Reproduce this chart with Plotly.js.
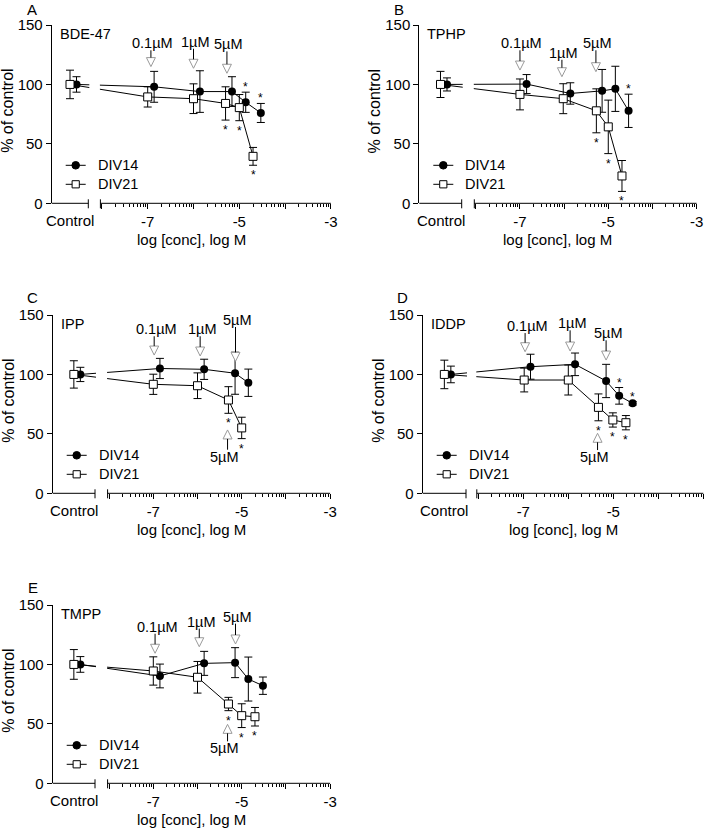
<!DOCTYPE html>
<html><head><meta charset="utf-8">
<script src="https://cdn.plot.ly/plotly-3.0.1.min.js"></script>
<style>html,body{margin:0;padding:0;background:#fff}#chart{width:709px;height:829px}</style>
</head><body><div id="chart"></div>
<script>
// ---------------- DATA ----------------
const seriesNames = ["DIV14", "DIV21"];
const xTickVals = [-8, -7, -6, -5, -4, -3];
const xTickText = ["", "-7", "", "-5", "", "-3"];
const yTickVals = [0, 50, 100, 150];

// A: BDE-47  (y / err arrays: first entry = Control)
const xA_div14 = [-6.86, -5.86, -5.16, -4.86, -4.53];
const yA_div14 = [100, 98, 94, 94, 85, 76];
const eA_div14 = [6.5, 13, 17.5, 12.5, 8.5, 8];
const sA_div14 = [0, 0, 0, 0, 1, 1];
const xA_div21 = [-7.0, -6.0, -5.3, -5.0, -4.7];
const yA_div21 = [100, 89.5, 88, 84, 80.5, 39.5];
const eA_div21 = [12, 8.5, 12.5, 14, 11, 7.5];
const sA_div21 = [0, 0, 0, 1, 1, 1];
const arrA_label = ["0.1µM", "1µM", "5µM"];
const arrA_x = [-6.93, -6.0, -5.27];
const arrA_tip = [115, 113.6, 109.4];
const arrA_text = [134.6, 135.9, 133.7];

// B: TPHP
const xB_div14 = [-6.85, -5.86, -5.14, -4.84, -4.54];
const yB_div14 = [100, 100.3, 92.4, 94.6, 96.3, 77.8];
const eB_div14 = [5.5, 8, 9, 18, 19, 14];
const sB_div14 = [0, 0, 0, 0, 0, 1];
const xB_div21 = [-7.0, -6.02, -5.27, -5.0, -4.69];
const yB_div21 = [100, 91.6, 88, 77.8, 64.3, 23];
const eB_div21 = [11, 13, 12.6, 18.5, 22.5, 13];
const sB_div21 = [0, 0, 0, 1, 1, 1];
const arrB_label = ["0.1µM", "1µM", "5µM"];
const arrB_x = [-7.0, -6.05, -5.28];
const arrB_tip = [112.1, 106.5, 110.7];
const arrB_text = [134.6, 126.6, 134.6];

// C: IPP
const xC_div14 = [-6.85, -5.85, -5.15, -4.85];
const yC_div14 = [100, 105, 104.3, 101, 93];
const eC_div14 = [6, 8.5, 8.5, 17.7, 11.5];
const sC_div14 = [0, 0, 0, 0, 0];
const xC_div21 = [-7.0, -6.0, -5.3, -5.0];
const yC_div21 = [100, 91.7, 90.5, 78.5, 55];
const eC_div21 = [11.5, 8.5, 10.8, 11.2, 9];
const sC_div21 = [0, 0, 0, 1, 1];
const arrC_label = ["0.1µM", "1µM", "5µM"];
const arrC_x = [-6.98, -5.94, -5.14];
const arrC_tip = [116.3, 115.5, 111];
const arrC_text = [138, 138, 145.8];
const arrC_upX = -5.32, arrC_upTip = 53.3, arrC_upText = 30.8;

// D: IDDP
const xD_div14 = [-6.84, -5.85, -5.16, -4.87, -4.57];
const yD_div14 = [100, 106.5, 108.5, 94.5, 82, 75.7];
const eD_div14 = [7, 10.5, 9.5, 14, 7, 1.5];
const sD_div14 = [0, 0, 0, 0, 1, 1];
const xD_div21 = [-6.98, -6.0, -5.33, -5.01, -4.72];
const yD_div21 = [100, 95.3, 95.3, 72.3, 61.7, 59.4];
const eD_div21 = [12, 10, 12.6, 11.3, 6, 6];
const sD_div21 = [0, 0, 0, 1, 1, 1];
const arrD_label = ["0.1µM", "1µM", "5µM"];
const arrD_x = [-6.96, -5.96, -5.16];
const arrD_tip = [119.1, 119.7, 112.1];
const arrD_text = [140.7, 143, 134.6];
const arrD_upX = -5.35, arrD_upTip = 50.5, arrD_upText = 30.5;

// E: TMPP
const xE_div14 = [-6.85, -5.85, -5.15, -4.85, -4.52];
const yE_div14 = [100, 90.3, 100.9, 101.5, 87.7, 82.1];
const eE_div14 = [6.6, 10, 10.1, 12.6, 18.5, 7.3];
const sE_div14 = [0, 0, 0, 0, 0, 0];
const xE_div21 = [-7.0, -6.0, -5.3, -5.0, -4.7];
const yE_div21 = [100, 94.5, 89.2, 66.7, 56.9, 56];
const eE_div21 = [12.5, 11.9, 13.3, 5.6, 10, 7.8];
const sE_div21 = [0, 0, 0, 1, 1, 1];
const arrE_label = ["0.1µM", "1µM", "5µM"];
const arrE_x = [-6.96, -5.96, -5.14];
const arrE_tip = [109.4, 114.9, 117.2];
const arrE_text = [131.7, 136, 140.2];
const arrE_upX = -5.32, arrE_upTip = 49.6, arrE_upText = 29.4;

// ---------------- assemble ----------------
const panels = [
  {letter:"A", name:"BDE-47", x14:xA_div14, y14:yA_div14, e14:eA_div14, s14:sA_div14, x21:xA_div21, y21:yA_div21, e21:eA_div21, s21:sA_div21,
   arr:{label:arrA_label, x:arrA_x, tip:arrA_tip, text:arrA_text}, up:null},
  {letter:"B", name:"TPHP", x14:xB_div14, y14:yB_div14, e14:eB_div14, s14:sB_div14, x21:xB_div21, y21:yB_div21, e21:eB_div21, s21:sB_div21,
   arr:{label:arrB_label, x:arrB_x, tip:arrB_tip, text:arrB_text}, up:null},
  {letter:"C", name:"IPP", x14:xC_div14, y14:yC_div14, e14:eC_div14, s14:sC_div14, x21:xC_div21, y21:yC_div21, e21:eC_div21, s21:sC_div21,
   arr:{label:arrC_label, x:arrC_x, tip:arrC_tip, text:arrC_text}, up:{label:"5µM", x:arrC_upX, tip:arrC_upTip, text:arrC_upText}},
  {letter:"D", name:"IDDP", x14:xD_div14, y14:yD_div14, e14:eD_div14, s14:sD_div14, x21:xD_div21, y21:yD_div21, e21:eD_div21, s21:sD_div21,
   arr:{label:arrD_label, x:arrD_x, tip:arrD_tip, text:arrD_text}, up:{label:"5µM", x:arrD_upX, tip:arrD_upTip, text:arrD_upText}},
  {letter:"E", name:"TMPP", x14:xE_div14, y14:yE_div14, e14:eE_div14, s14:sE_div14, x21:xE_div21, y21:yE_div21, e21:eE_div21, s21:sE_div21,
   arr:{label:arrE_label, x:arrE_x, tip:arrE_tip, text:arrE_text}, up:{label:"5µM", x:arrE_upX, tip:arrE_upTip, text:arrE_upText}}
];

// layout geometry (pixels)
const W = 709, H = 829;
const geom = [
  {yx:51.7, ctrlEnd:88.3, m8:101.9, m3:330.9, top:25, bot:203.3},
  {yx:419.3, ctrlEnd:461.7, m8:475.8, m3:696.6, top:25, bot:203.3},
  {yx:52.7, ctrlEnd:95, m8:109.1, m3:330.1, top:315, bot:493.3},
  {yx:422.7, ctrlEnd:466, m8:478.3, m3:703.3, top:315, bot:493.3},
  {yx:52.7, ctrlEnd:95, m8:109.1, m3:330.1, top:605, bot:783.3}
];
const FONT = "Liberation Sans, Arial, Helvetica, sans-serif";
const px = v => v / W;
const py = v => 1 - v / H;

const minorVals = [];
for (let n = -8; n <= -4; n++) for (let k = 2; k <= 9; k++) minorVals.push(n + Math.log10(k));

const traces = [], shapes = [], annotations = [];
const layout = {
  width: W, height: H, margin: {l:0, r:0, t:0, b:0},
  paper_bgcolor: "#fff", plot_bgcolor: "rgba(0,0,0,0)", showlegend: false,
  font: {family: FONT, color: "#000", size: 14.5}
};

function txt(o) {
  return Object.assign({showarrow:false, font:{family:FONT, size:14.5, color:"#000"}}, o);
}

panels.forEach((p, i) => {
  const g = geom[i];
  const k = i === 0 ? "" : String(i + 1);
  const xa = "x" + k, ya = "y" + k;
  const dec = (g.m3 - g.m8) / 5;               // px per decade
  const pxY = (g.bot - g.top) / 150;           // px per % unit
  const cL = -8 - (g.m8 - g.yx) / dec;
  const cR = -8 - (g.m8 - g.ctrlEnd) / dec;
  const cMid = (cL + cR) / 2;
  const ctrlX14 = cMid + 6.5 / dec, ctrlX21 = cMid;

  layout["xaxis" + k] = {
    domain: [px(g.yx), px(g.m3)], range: [cL, -3], anchor: ya,
    showline: false, zeroline: false, showgrid: false, fixedrange: true,
    tickmode: "array", tickvals: xTickVals, ticktext: xTickText,
    ticks: "outside", ticklen: 5, tickwidth: 1, tickcolor: "#000",
    tickfont: {family: FONT, size: 15, color: "#000"},
    minor: {tickmode: "array", tickvals: minorVals, ticks: "outside", ticklen: 3, tickwidth: 1, tickcolor: "#000", showgrid: false}
  };
  layout["yaxis" + k] = {
    domain: [py(g.bot), py(g.top)], range: [0, 150], anchor: xa,
    showline: true, linecolor: "#000", linewidth: 1, zeroline: false, showgrid: false, fixedrange: true,
    tickmode: "array", tickvals: yTickVals, ticks: "outside", ticklen: 5, tickwidth: 1, tickcolor: "#000",
    tickfont: {family: FONT, size: 15, color: "#000"}
  };

  // series
  const mk = (xs, ys, es, ctrlX, isOpen) => ({
    type: "scatter", mode: "lines+markers", xaxis: xa, yaxis: ya,
    x: [ctrlX].concat(xs), y: ys, hoverinfo: "skip", showlegend: false, cliponaxis: false,
    line: {color: "#000", width: 1},
    marker: isOpen ? {symbol: "square", size: 8, color: "#fff", line: {color: "#000", width: 1}}
                   : {symbol: "circle", size: 8, color: "#000"},
    error_y: {type: "data", array: es, visible: true, color: "#000", thickness: 1, width: 4}
  });
  traces.push(mk(p.x14, p.y14, p.e14, ctrlX14, false));
  traces.push(mk(p.x21, p.y21, p.e21, ctrlX21, true));

  // gap in x axis (break) - white cover over lines crossing the break
  shapes.push({type: "rect", xref: "paper", yref: "paper", layer: "above",
    x0: px(g.ctrlEnd + 1), x1: px(g.m8 - 2), y0: py(g.bot - 75 * pxY), y1: py(g.bot - 125 * pxY),
    fillcolor: "#fff", line: {width: 0}});
  // axis line segments
  shapes.push({type: "line", xref: "paper", yref: "paper", x0: px(g.yx), x1: px(g.ctrlEnd), y0: py(g.bot), y1: py(g.bot), line: {color: "#000", width: 1}});
  shapes.push({type: "line", xref: "paper", yref: "paper", x0: px(g.m8 - 1.5), x1: px(g.m3), y0: py(g.bot), y1: py(g.bot), line: {color: "#000", width: 1}});
  // break end ticks
  [g.ctrlEnd, g.m8 - 1.5].forEach(xx => shapes.push({type: "line", xref: "paper", yref: "paper",
    x0: px(xx), x1: px(xx), y0: py(g.bot - 4), y1: py(g.bot + 5), line: {color: "#000", width: 1}}));

  // Control label
  annotations.push(txt({xref: xa, yref: "paper", x: cMid, y: py(g.bot), yanchor: "middle", yshift: -17, text: "Control", font: {family: FONT, size: 15, color: "#000"}}));
  // axis titles
  annotations.push(txt({xref: "paper", yref: "paper", x: px((g.yx + g.m3) / 2), y: py(g.bot + 36), xanchor: "center", yanchor: "middle", text: "log [conc], log M", font: {family: FONT, size: 15, color: "#000"}}));
  annotations.push(txt({xref: "paper", yref: "paper", x: px(g.yx - 45), y: py((g.top + g.bot) / 2 - 3), xanchor: "center", yanchor: "middle", textangle: -90, text: "% of control", font: {family: FONT, size: 16, color: "#000"}}));
  // panel letter and compound name
  annotations.push(txt({xref: "paper", yref: "paper", x: px(g.yx - 20), y: py(Math.max(g.top - 18, 9.5)), xanchor: "center", yanchor: "middle", text: p.letter, font: {family: FONT, size: 15, color: "#000"}}));
  annotations.push(txt({xref: "paper", yref: "paper", x: px(g.yx + 6), y: py(g.top + 9), xanchor: "left", yanchor: "middle", text: p.name}));

  // significance asterisks
  const astFont = {family: "Arial, Liberation Sans, sans-serif", size: 12, color: "#000"};
  p.s14.forEach((s, j) => { if (s) annotations.push(txt({xref: xa, yref: ya, x: j === 0 ? ctrlX14 : p.x14[j - 1], y: p.y14[j] + p.e14[j], yanchor: "middle", yshift: 5, borderpad: 0, text: "*", font: astFont})); });
  p.s21.forEach((s, j) => { if (s) annotations.push(txt({xref: xa, yref: ya, x: j === 0 ? ctrlX21 : p.x21[j - 1], y: p.y21[j] - p.e21[j], yanchor: "middle", yshift: -10, borderpad: 0, text: "*", font: astFont})); });

  // concentration arrows (pointing down)
  const hw = 4.5 / dec, th = 9 / pxY;
  p.arr.label.forEach((lab, j) => {
    const a = p.arr.x[j], t = p.arr.tip[j], tv = p.arr.text[j];
    shapes.push({type: "path", xref: xa, yref: ya, path: `M ${a - hw},${t + th} L ${a + hw},${t + th} L ${a},${t} Z`,
      fillcolor: "#fff", line: {color: "#9a9a9a", width: 1}});
    shapes.push({type: "line", xref: xa, yref: ya, x0: a, x1: a, y0: t + th, y1: tv - 7 / pxY, line: {color: "#000", width: 1}});
    annotations.push(txt({xref: xa, yref: ya, x: a, y: tv, xshift: 2, yanchor: "middle", text: lab}));
  });
  if (p.up) {
    const a = p.up.x, t = p.up.tip, tv = p.up.text;
    shapes.push({type: "path", xref: xa, yref: ya, path: `M ${a - hw},${t - th} L ${a + hw},${t - th} L ${a},${t} Z`,
      fillcolor: "#fff", line: {color: "#9a9a9a", width: 1}});
    shapes.push({type: "line", xref: xa, yref: ya, x0: a, x1: a, y0: t - th, y1: tv + 7 / pxY, line: {color: "#000", width: 1}});
    annotations.push(txt({xref: xa, yref: ya, x: a, y: tv, xshift: -3, yanchor: "middle", borderpad: 0, text: p.up.label}));
  }

  // legend
  const mx = g.yx + 24;
  [g.bot - 38, g.bot - 19].forEach((ry, j) => {
    shapes.push({type: "line", xref: "paper", yref: "paper", x0: px(mx - 10), x1: px(mx + 10), y0: py(ry), y1: py(ry), line: {color: "#000", width: 1}});
    if (j === 0) shapes.push({type: "circle", xref: "paper", yref: "paper", x0: px(mx - 3.8), x1: px(mx + 3.8), y0: py(ry + 3.8), y1: py(ry - 3.8), fillcolor: "#000", line: {color: "#000", width: 1}});
    else shapes.push({type: "rect", xref: "paper", yref: "paper", x0: px(mx - 3.6), x1: px(mx + 3.6), y0: py(ry + 3.6), y1: py(ry - 3.6), fillcolor: "#fff", line: {color: "#000", width: 1}});
    annotations.push(txt({xref: "paper", yref: "paper", x: px(g.yx + 44), y: py(ry), xanchor: "left", yanchor: "middle", text: seriesNames[j]}));
  });
});

layout.shapes = shapes;
layout.annotations = annotations;
Plotly.newPlot("chart", traces, layout, {displayModeBar: false, staticPlot: true});
</script>
</body></html>
